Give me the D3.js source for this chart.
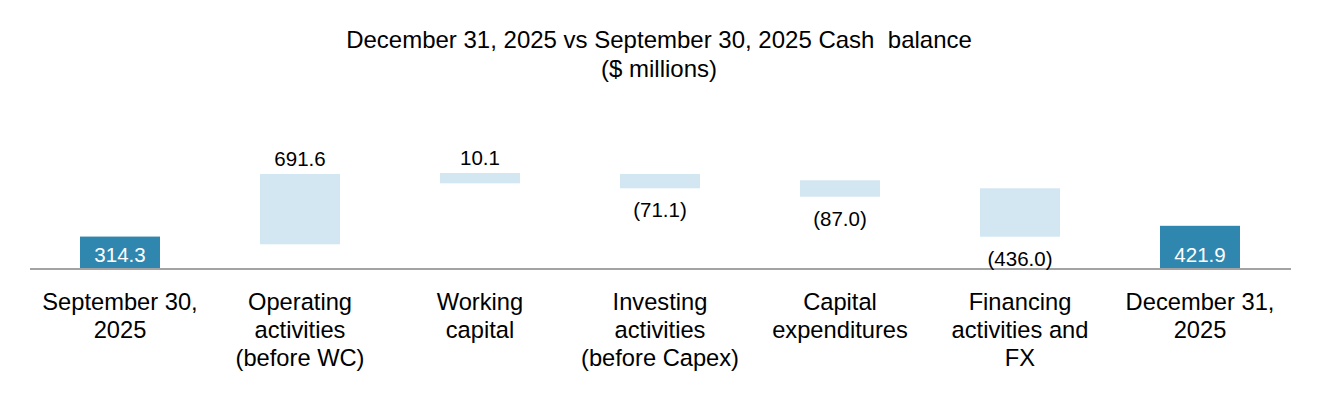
<!DOCTYPE html>
<html>
<head>
<meta charset="utf-8">
<script src="https://cdn.jsdelivr.net/npm/d3@7"></script>
<style>
  html, body { margin: 0; padding: 0; background: #ffffff; }
  svg { display: block; }
  text { font-family: "Liberation Sans", Arial, Helvetica, sans-serif; }
</style>
</head>
<body>
<svg id="chart" width="1320" height="400"></svg>
<script>
// ---- Data ($ millions) ----
const categories = [
  "September 30, 2025",
  "Operating activities (before WC)",
  "Working capital",
  "Investing activities (before Capex)",
  "Capital expenditures",
  "Financing activities and FX",
  "December 31, 2025"
];
const categoryLines = [
  ["September 30,", "2025"],
  ["Operating", "activities", "(before WC)"],
  ["Working", "capital"],
  ["Investing", "activities", "(before Capex)"],
  ["Capital", "expenditures"],
  ["Financing", "activities and", "FX"],
  ["December 31,", "2025"]
];
// Values shown as labels
const values = [314.3, 691.6, 10.1, -71.1, -87.0, -436.0, 421.9];
// Kind of bar: total (balance) or change
const kinds = ["total", "change", "change", "change", "change", "change", "total"];
// Bar extents as drawn in the reference (value units)
const barLow  = [0,     237, 847, 797, 713, 313, 0];
const barHigh = [314.3, 940, 950, 940, 877, 797, 421.9];

const titleLines = ["December 31, 2025 vs September 30, 2025 Cash\u00a0 balance", "($ millions)"];

// ---- Layout ----
const svg = d3.select("#chart");
const x = d3.scaleBand()
  .domain(categories)
  .range([30, 1290])
  .paddingInner(100 / 180)
  .paddingOuter(50 / 180);
const y = d3.scaleLinear().domain([0, 1000]).range([268, 168]);

const fmt = v => v < 0 ? "(" + d3.format(".1f")(-v) + ")" : d3.format(".1f")(v);

// Title
svg.append("g").selectAll("text")
  .data(titleLines)
  .join("text")
  .attr("x", 659)
  .attr("y", (d, i) => 47.5 + i * 29)
  .attr("text-anchor", "middle")
  .attr("font-size", "24px")
  .attr("fill", "#000")
  .text(d => d);

const data = categories.map((c, i) => ({
  cat: c, lines: categoryLines[i], value: values[i], kind: kinds[i],
  low: barLow[i], high: barHigh[i]
}));

// Bars
svg.append("g").selectAll("rect")
  .data(data)
  .join("rect")
  .attr("x", d => x(d.cat))
  .attr("width", x.bandwidth())
  .attr("y", d => y(d.high))
  .attr("height", d => y(d.low) - y(d.high))
  .attr("fill", d => d.kind === "total" ? "#2f87b0" : "#d2e7f2");

// Baseline axis line
svg.append("line")
  .attr("x1", 30).attr("x2", 1291)
  .attr("y1", y(0) + 1).attr("y2", y(0) + 1)
  .attr("stroke", "#a3a3a3")
  .attr("stroke-width", 2);

// Value labels
svg.append("g").selectAll("text")
  .data(data)
  .join("text")
  .attr("x", d => x(d.cat) + x.bandwidth() / 2)
  .attr("y", d => {
    if (d.kind === "total") return y(0) - 6.5;
    if (d.value >= 0) return y(d.high) - 8;
    return y(d.low) + 29;
  })
  .attr("text-anchor", "middle")
  .attr("font-size", "20.5px")
  .attr("fill", d => d.kind === "total" ? "#ffffff" : "#000000")
  .text(d => fmt(d.value));

// Category labels
const catG = svg.append("g").selectAll("text")
  .data(data)
  .join("text")
  .attr("x", d => x(d.cat) + x.bandwidth() / 2)
  .attr("y", 310)
  .attr("text-anchor", "middle")
  .attr("font-size", "23.7px")
  .attr("fill", "#000");
catG.selectAll("tspan")
  .data(d => d.lines.map(l => ({ l, cx: x(d.cat) + x.bandwidth() / 2 })))
  .join("tspan")
  .attr("x", t => t.cx)
  .attr("dy", (t, i) => i === 0 ? 0 : 28)
  .text(t => t.l);
</script>
</body>
</html>
